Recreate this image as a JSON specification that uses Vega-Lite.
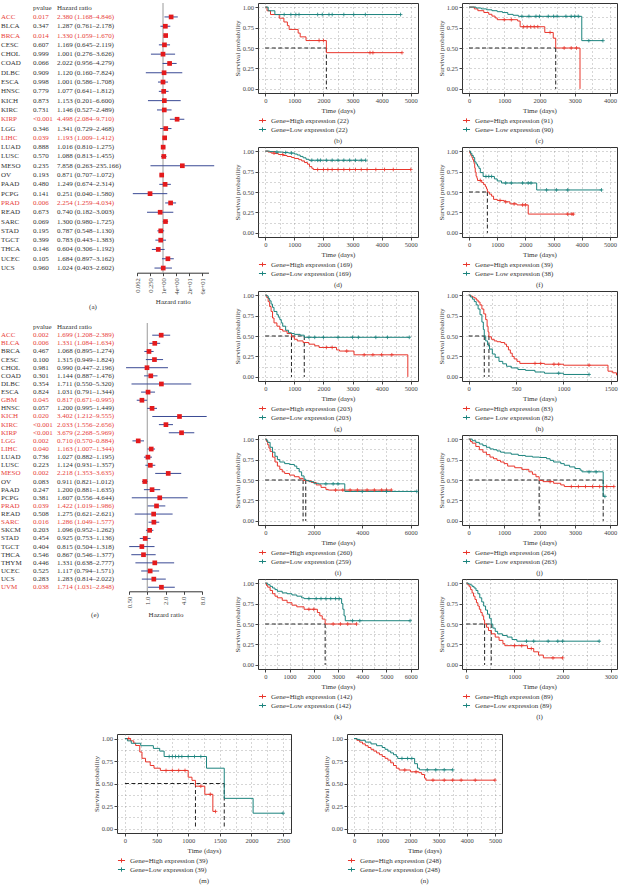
{
"$schema": "https://vega.github.io/schema/vega-lite/v6.json",
"padding": {"left": 1, "top": 2, "right": 0, "bottom": 0},
"background": "white",
"config": {
 "font": "Liberation Serif",
 "view": {"stroke": "#333", "strokeWidth": 1},
 "axis": {"labelFontSize": 6.5, "titleFontSize": 7, "titleFontWeight": "normal", "labelColor": "#444", "titleColor": "#333", "tickColor": "#444", "tickSize": 3, "labelPadding": 1.5, "titlePadding": 2, "gridColor": "#777", "gridDash": [1, 3], "gridWidth": 0.6, "domain": false},
 "legend": {"orient": "bottom", "direction": "vertical", "labelFontSize": 7, "labelColor": "#333", "offset": 3, "rowPadding": 0, "symbolSize": 50, "symbolStrokeWidth": 1, "labelOffset": 4, "padding": 0},
 "title": {"fontSize": 7, "fontWeight": "normal", "color": "#333", "offset": 3},
 "text": {"fontSize": 7}
},
"resolve": {"scale": {"color": "independent"}, "legend": {"color": "independent"}},
"datasets": {
 "fa": [
  {"cancer":"ACC","p":"0.017","hr":2.380,"lo":1.168,"hi":4.846,"hrtext":"2.380 (1.168–4.846)"},
  {"cancer":"BLCA","p":"0.347","hr":1.287,"lo":0.761,"hi":2.178,"hrtext":"1.287 (0.761–2.178)"},
  {"cancer":"BRCA","p":"0.014","hr":1.330,"lo":1.059,"hi":1.670,"hrtext":"1.330 (1.059–1.670)"},
  {"cancer":"CESC","p":"0.607","hr":1.169,"lo":0.645,"hi":2.119,"hrtext":"1.169 (0.645–2.119)"},
  {"cancer":"CHOL","p":"0.999","hr":1.001,"lo":0.276,"hi":3.626,"hrtext":"1.001 (0.276–3.626)"},
  {"cancer":"COAD","p":"0.066","hr":2.022,"lo":0.956,"hi":4.279,"hrtext":"2.022 (0.956–4.279)"},
  {"cancer":"DLBC","p":"0.909","hr":1.120,"lo":0.160,"hi":7.824,"hrtext":"1.120 (0.160–7.824)"},
  {"cancer":"ESCA","p":"0.998","hr":1.001,"lo":0.586,"hi":1.708,"hrtext":"1.001 (0.586–1.708)"},
  {"cancer":"HNSC","p":"0.779","hr":1.077,"lo":0.641,"hi":1.812,"hrtext":"1.077 (0.641–1.812)"},
  {"cancer":"KICH","p":"0.873","hr":1.153,"lo":0.201,"hi":6.600,"hrtext":"1.153 (0.201–6.600)"},
  {"cancer":"KIRC","p":"0.731","hr":1.146,"lo":0.527,"hi":2.489,"hrtext":"1.146 (0.527–2.489)"},
  {"cancer":"KIRP","p":"<0.001","hr":4.498,"lo":2.084,"hi":9.710,"hrtext":"4.498 (2.084–9.710)"},
  {"cancer":"LGG","p":"0.346","hr":1.341,"lo":0.729,"hi":2.468,"hrtext":"1.341 (0.729–2.468)"},
  {"cancer":"LIHC","p":"0.039","hr":1.193,"lo":1.009,"hi":1.412,"hrtext":"1.193 (1.009–1.412)"},
  {"cancer":"LUAD","p":"0.888","hr":1.016,"lo":0.810,"hi":1.275,"hrtext":"1.016 (0.810–1.275)"},
  {"cancer":"LUSC","p":"0.570","hr":1.088,"lo":0.813,"hi":1.455,"hrtext":"1.088 (0.813–1.455)"},
  {"cancer":"MESO","p":"0.235","hr":7.858,"lo":0.263,"hi":235.166,"hrtext":"7.858 (0.263–235.166)"},
  {"cancer":"OV","p":"0.193","hr":0.871,"lo":0.707,"hi":1.072,"hrtext":"0.871 (0.707–1.072)"},
  {"cancer":"PAAD","p":"0.480","hr":1.249,"lo":0.674,"hi":2.314,"hrtext":"1.249 (0.674–2.314)"},
  {"cancer":"PCPG","p":"0.141","hr":0.251,"lo":0.040,"hi":1.580,"hrtext":"0.251 (0.040–1.580)"},
  {"cancer":"PRAD","p":"0.006","hr":2.254,"lo":1.259,"hi":4.034,"hrtext":"2.254 (1.259–4.034)"},
  {"cancer":"READ","p":"0.673","hr":0.740,"lo":0.182,"hi":3.003,"hrtext":"0.740 (0.182–3.003)"},
  {"cancer":"SARC","p":"0.069","hr":1.300,"lo":0.980,"hi":1.725,"hrtext":"1.300 (0.980–1.725)"},
  {"cancer":"STAD","p":"0.195","hr":0.787,"lo":0.548,"hi":1.130,"hrtext":"0.787 (0.548–1.130)"},
  {"cancer":"TGCT","p":"0.399","hr":0.783,"lo":0.443,"hi":1.383,"hrtext":"0.783 (0.443–1.383)"},
  {"cancer":"THCA","p":"0.146","hr":0.604,"lo":0.306,"hi":1.192,"hrtext":"0.604 (0.306–1.192)"},
  {"cancer":"UCEC","p":"0.105","hr":1.684,"lo":0.897,"hi":3.162,"hrtext":"1.684 (0.897–3.162)"},
  {"cancer":"UCS","p":"0.960","hr":1.024,"lo":0.403,"hi":2.602,"hrtext":"1.024 (0.403–2.602)"}
 ],
 "fe": [
  {"cancer":"ACC","p":"0.002","hr":1.699,"lo":1.208,"hi":2.389,"hrtext":"1.699 (1.208–2.389)"},
  {"cancer":"BLCA","p":"0.006","hr":1.331,"lo":1.084,"hi":1.634,"hrtext":"1.331 (1.084–1.634)"},
  {"cancer":"BRCA","p":"0.467","hr":1.068,"lo":0.895,"hi":1.274,"hrtext":"1.068 (0.895–1.274)"},
  {"cancer":"CESC","p":"0.100","hr":1.315,"lo":0.949,"hi":1.824,"hrtext":"1.315 (0.949–1.824)"},
  {"cancer":"CHOL","p":"0.981","hr":0.990,"lo":0.447,"hi":2.196,"hrtext":"0.990 (0.447–2.196)"},
  {"cancer":"COAD","p":"0.301","hr":1.144,"lo":0.887,"hi":1.476,"hrtext":"1.144 (0.887–1.476)"},
  {"cancer":"DLBC","p":"0.354","hr":1.711,"lo":0.550,"hi":5.320,"hrtext":"1.711 (0.550–5.320)"},
  {"cancer":"ESCA","p":"0.824","hr":1.031,"lo":0.791,"hi":1.344,"hrtext":"1.031 (0.791–1.344)"},
  {"cancer":"GBM","p":"0.045","hr":0.817,"lo":0.671,"hi":0.995,"hrtext":"0.817 (0.671–0.995)"},
  {"cancer":"HNSC","p":"0.057","hr":1.200,"lo":0.995,"hi":1.449,"hrtext":"1.200 (0.995–1.449)"},
  {"cancer":"KICH","p":"0.020","hr":3.402,"lo":1.212,"hi":9.555,"hrtext":"3.402 (1.212–9.555)"},
  {"cancer":"KIRC","p":"<0.001","hr":2.033,"lo":1.556,"hi":2.656,"hrtext":"2.033 (1.556–2.656)"},
  {"cancer":"KIRP","p":"<0.001","hr":3.679,"lo":2.268,"hi":5.969,"hrtext":"3.679 (2.268–5.969)"},
  {"cancer":"LGG","p":"0.002","hr":0.710,"lo":0.570,"hi":0.884,"hrtext":"0.710 (0.570–0.884)"},
  {"cancer":"LIHC","p":"0.040","hr":1.163,"lo":1.007,"hi":1.344,"hrtext":"1.163 (1.007–1.344)"},
  {"cancer":"LUAD","p":"0.736","hr":1.027,"lo":0.882,"hi":1.195,"hrtext":"1.027 (0.882–1.195)"},
  {"cancer":"LUSC","p":"0.223","hr":1.124,"lo":0.931,"hi":1.357,"hrtext":"1.124 (0.931–1.357)"},
  {"cancer":"MESO","p":"0.002","hr":2.218,"lo":1.353,"hi":3.635,"hrtext":"2.218 (1.353–3.635)"},
  {"cancer":"OV","p":"0.083","hr":0.911,"lo":0.821,"hi":1.012,"hrtext":"0.911 (0.821–1.012)"},
  {"cancer":"PAAD","p":"0.247","hr":1.200,"lo":0.881,"hi":1.635,"hrtext":"1.200 (0.881–1.635)"},
  {"cancer":"PCPG","p":"0.381","hr":1.607,"lo":0.556,"hi":4.644,"hrtext":"1.607 (0.556–4.644)"},
  {"cancer":"PRAD","p":"0.039","hr":1.422,"lo":1.019,"hi":1.986,"hrtext":"1.422 (1.019–1.986)"},
  {"cancer":"READ","p":"0.508","hr":1.275,"lo":0.621,"hi":2.621,"hrtext":"1.275 (0.621–2.621)"},
  {"cancer":"SARC","p":"0.016","hr":1.286,"lo":1.049,"hi":1.577,"hrtext":"1.286 (1.049–1.577)"},
  {"cancer":"SKCM","p":"0.203","hr":1.096,"lo":0.952,"hi":1.262,"hrtext":"1.096 (0.952–1.262)"},
  {"cancer":"STAD","p":"0.454","hr":0.925,"lo":0.753,"hi":1.136,"hrtext":"0.925 (0.753–1.136)"},
  {"cancer":"TGCT","p":"0.404","hr":0.815,"lo":0.504,"hi":1.318,"hrtext":"0.815 (0.504–1.318)"},
  {"cancer":"THCA","p":"0.546","hr":0.867,"lo":0.546,"hi":1.377,"hrtext":"0.867 (0.546–1.377)"},
  {"cancer":"THYM","p":"0.446","hr":1.331,"lo":0.638,"hi":2.777,"hrtext":"1.331 (0.638–2.777)"},
  {"cancer":"UCEC","p":"0.525","hr":1.117,"lo":0.794,"hi":1.571,"hrtext":"1.117 (0.794–1.571)"},
  {"cancer":"UCS","p":"0.283","hr":1.283,"lo":0.814,"hi":2.022,"hrtext":"1.283 (0.814–2.022)"},
  {"cancer":"UVM","p":"0.038","hr":1.714,"lo":1.031,"hi":2.848,"hrtext":"1.714 (1.031–2.848)"}
 ]
},
"spacing": 12,
"vconcat": [
 {"spacing": 17, "align": "none", "resolve": {"scale": {"color": "independent"}, "legend": {"color": "independent"}}, "hconcat": [
  {"spacing": 12, "vconcat": [
   {"spacing": 16, "bounds": "flush", "hconcat": [
    {"width": 120, "height": 269.7, "view": {"stroke": null}, "data": {"name": "fa"},
     "title": {"text": "(a)", "orient": "bottom", "anchor": "middle", "frame": "group", "dx": 32, "offset": 30},
     "encoding": {"y": {"field": "cancer", "type": "nominal", "scale": {"type": "point", "padding": 0.5, "domain": ["hdr","ACC","BLCA","BRCA","CESC","CHOL","COAD","DLBC","ESCA","HNSC","KICH","KIRC","KIRP","LGG","LIHC","LUAD","LUSC","MESO","OV","PAAD","PCPG","PRAD","READ","SARC","STAD","TGCT","THCA","UCEC","UCS"]}, "axis": null},
      "color": {"condition": {"test": "datum.p === '<0.001' || toNumber(datum.p) < 0.05", "value": "#E8403A"}, "value": "#333"}},
     "layer": [
      {"mark": {"type": "text", "align": "left", "fontSize": 7}, "encoding": {"x": {"datum": 0, "type": "quantitative", "scale": {"domain": [0, 120], "nice": false}, "axis": null}, "text": {"field": "cancer"}}},
      {"mark": {"type": "text", "align": "left", "fontSize": 7}, "encoding": {"x": {"datum": 32, "type": "quantitative"}, "text": {"field": "p"}}},
      {"mark": {"type": "text", "align": "left", "fontSize": 7}, "encoding": {"x": {"datum": 56, "type": "quantitative"}, "text": {"field": "hrtext"}}},
      {"data": {"values": [{}]}, "mark": {"type": "text", "align": "left", "fontSize": 7}, "encoding": {"x": {"datum": 32, "type": "quantitative"}, "y": {"datum": "hdr"}, "text": {"value": "pvalue"}, "color": {"value": "#333"}}},
      {"data": {"values": [{}]}, "mark": {"type": "text", "align": "left", "fontSize": 7}, "encoding": {"x": {"datum": 56, "type": "quantitative"}, "y": {"datum": "hdr"}, "text": {"value": "Hazard ratio"}, "color": {"value": "#333"}}}
     ]},
    {"width": 71.5, "height": 269.7, "view": {"stroke": null}, "data": {"name": "fa"},
     "layer": [
      {"data": {"values": [{}]}, "mark": {"type": "rule", "color": "#9a9a9a", "strokeWidth": 1}, "encoding": {"x": {"datum": 1, "type": "quantitative", "scale": {"type": "log", "domain": [0.0625, 128], "nice": false}}}},
      {"mark": {"type": "rule", "color": "#3A4A94", "strokeWidth": 1}, "encoding": {"x": {"field": "lo", "type": "quantitative", "scale": {"type": "log", "domain": [0.0625, 128], "nice": false}}, "x2": {"field": "hi"}, "y": {"field": "cancer", "type": "nominal", "scale": {"type": "point", "padding": 0.5, "domain": ["hdr","ACC","BLCA","BRCA","CESC","CHOL","COAD","DLBC","ESCA","HNSC","KICH","KIRC","KIRP","LGG","LIHC","LUAD","LUSC","MESO","OV","PAAD","PCPG","PRAD","READ","SARC","STAD","TGCT","THCA","UCEC","UCS"]}, "axis": null}}},
      {"mark": {"type": "point", "shape": "square", "filled": true, "size": 22, "color": "#E41A1C", "opacity": 1}, "encoding": {"x": {"field": "hr", "type": "quantitative", "scale": {"type": "log", "domain": [0.0625, 128], "nice": false}, "axis": {"title": "Hazard ratio", "values": [0.0625, 0.25, 1, 4, 16, 64], "labelAngle": 270, "labelExpr": "datum.value < 0.1 ? '0.062' : datum.value < 0.5 ? '0.250' : datum.value < 2 ? '1e+00' : datum.value < 8 ? '4e+00' : datum.value < 32 ? '2e+01' : '6e+01'", "domain": true, "domainColor": "#333", "ticks": true, "grid": false, "labelPadding": 2, "titlePadding": 3}}, "y": {"field": "cancer", "type": "nominal"}}}
     ]}
   ]},
   {"spacing": 8, "bounds": "flush", "hconcat": [
    {"width": 120, "height": 268.3, "view": {"stroke": null}, "data": {"name": "fe"},
     "title": {"text": "(e)", "orient": "bottom", "anchor": "middle", "frame": "group", "dx": 34, "offset": 20},
     "encoding": {"y": {"field": "cancer", "type": "nominal", "scale": {"type": "point", "padding": 0.5, "domain": ["hdr","ACC","BLCA","BRCA","CESC","CHOL","COAD","DLBC","ESCA","GBM","HNSC","KICH","KIRC","KIRP","LGG","LIHC","LUAD","LUSC","MESO","OV","PAAD","PCPG","PRAD","READ","SARC","SKCM","STAD","TGCT","THCA","THYM","UCEC","UCS","UVM"]}, "axis": null},
      "color": {"condition": {"test": "datum.p === '<0.001' || toNumber(datum.p) < 0.05", "value": "#E8403A"}, "value": "#333"}},
     "layer": [
      {"mark": {"type": "text", "align": "left", "fontSize": 7}, "encoding": {"x": {"datum": 0, "type": "quantitative", "scale": {"domain": [0, 120], "nice": false}, "axis": null}, "text": {"field": "cancer"}}},
      {"mark": {"type": "text", "align": "left", "fontSize": 7}, "encoding": {"x": {"datum": 32, "type": "quantitative"}, "text": {"field": "p"}}},
      {"mark": {"type": "text", "align": "left", "fontSize": 7}, "encoding": {"x": {"datum": 56, "type": "quantitative"}, "text": {"field": "hrtext"}}},
      {"data": {"values": [{}]}, "mark": {"type": "text", "align": "left", "fontSize": 7}, "encoding": {"x": {"datum": 32, "type": "quantitative"}, "y": {"datum": "hdr"}, "text": {"value": "pvalue"}, "color": {"value": "#333"}}},
      {"data": {"values": [{}]}, "mark": {"type": "text", "align": "left", "fontSize": 7}, "encoding": {"x": {"datum": 56, "type": "quantitative"}, "y": {"datum": "hdr"}, "text": {"value": "Hazard ratio"}, "color": {"value": "#333"}}}
     ]},
    {"width": 73, "height": 268.3, "view": {"stroke": null}, "data": {"name": "fe"},
     "layer": [
      {"data": {"values": [{}]}, "mark": {"type": "rule", "color": "#9a9a9a", "strokeWidth": 1}, "encoding": {"x": {"datum": 1, "type": "quantitative", "scale": {"type": "log", "domain": [0.5, 8], "nice": false}}}},
      {"mark": {"type": "rule", "color": "#3A4A94", "strokeWidth": 1}, "encoding": {"x": {"field": "lo", "type": "quantitative", "scale": {"type": "log", "domain": [0.5, 8], "nice": false}}, "x2": {"field": "hi"}, "y": {"field": "cancer", "type": "nominal", "scale": {"type": "point", "padding": 0.5, "domain": ["hdr","ACC","BLCA","BRCA","CESC","CHOL","COAD","DLBC","ESCA","GBM","HNSC","KICH","KIRC","KIRP","LGG","LIHC","LUAD","LUSC","MESO","OV","PAAD","PCPG","PRAD","READ","SARC","SKCM","STAD","TGCT","THCA","THYM","UCEC","UCS","UVM"]}, "axis": null}}},
      {"mark": {"type": "point", "shape": "square", "filled": true, "size": 22, "color": "#E41A1C", "opacity": 1}, "encoding": {"x": {"field": "hr", "type": "quantitative", "scale": {"type": "log", "domain": [0.5, 8], "nice": false}, "axis": {"title": "Hazard ratio", "values": [0.5, 1, 2, 4, 8], "labelAngle": 270, "labelExpr": "datum.value < 1 ? '0.50' : format(datum.value, '.1f')", "domain": true, "domainColor": "#333", "ticks": true, "grid": false, "labelPadding": 2, "titlePadding": 3}}, "y": {"field": "cancer", "type": "nominal"}}}
     ]}
   ]}
  ]},
  {"columns": 2, "spacing": {"row": 1, "column": 15}, "resolve": {"scale": {"color": "independent"}, "legend": {"color": "independent"}}, "concat": [
   {"width": 160, "height": 90, "title": {"text": "(b)", "orient": "bottom", "anchor": "middle", "frame": "group"},
    "data": {"values": [
     {"g":"H","t":0,"s":1},{"g":"H","t":60,"s":0.955},{"g":"H","t":180,"s":0.909},{"g":"H","t":480,"s":0.864},{"g":"H","t":640,"s":0.818},{"g":"H","t":760,"s":0.773},{"g":"H","t":820,"s":0.727},{"g":"H","t":1130,"s":0.682},{"g":"H","t":1200,"s":0.636},{"g":"H","t":1400,"s":0.591},{"g":"H","t":1850,"s":0.591,"c":1},{"g":"H","t":2000,"s":0.591,"c":1},{"g":"H","t":2100,"s":0.443},{"g":"H","t":3600,"s":0.443,"c":1},{"g":"H","t":3700,"s":0.443,"c":1},{"g":"H","t":4700,"s":0.443,"c":1},
     {"g":"L","t":0,"s":1},{"g":"L","t":100,"s":0.955},{"g":"L","t":330,"s":0.909},{"g":"L","t":650,"s":0.909,"c":1},{"g":"L","t":880,"s":0.909,"c":1},{"g":"L","t":1050,"s":0.909,"c":1},{"g":"L","t":1160,"s":0.909,"c":1},{"g":"L","t":1800,"s":0.909,"c":1},{"g":"L","t":1960,"s":0.909,"c":1},{"g":"L","t":2190,"s":0.909,"c":1},{"g":"L","t":2300,"s":0.909,"c":1},{"g":"L","t":2700,"s":0.909,"c":1},{"g":"L","t":3040,"s":0.909,"c":1},{"g":"L","t":3440,"s":0.909,"c":1},{"g":"L","t":4650,"s":0.909,"c":1}
    ]},
    "encoding": {
     "x": {"field": "t", "type": "quantitative", "scale": {"domain": [-250, 5250], "nice": false, "zero": false}, "axis": {"title": "Time (days)", "values": [0,500,1000,1500,2000,2500,3000,3500,4000,4500,5000], "format": "d", "labelExpr": "datum.value % 1000 === 0 ? datum.label : ''", "tickOpacity": {"condition": {"test": "datum.value % 1000 !== 0", "value": 0}, "value": 1}}},
     "y": {"field": "s", "type": "quantitative", "scale": {"domain": [-0.05, 1.05], "nice": false, "zero": false}, "axis": {"title": "Survival probability", "values": [0,0.125,0.25,0.375,0.5,0.625,0.75,0.875,1], "labelExpr": "datum.value*4 % 1 === 0 ? format(datum.value, '.2f') : ''", "tickOpacity": {"condition": {"test": "datum.value*4 % 1 !== 0", "value": 0}, "value": 1}}}
    },
    "layer": [
     {"data": {"values": [{"t":0,"t2":2100,"s":0.5,"s2":0.5},{"t":2100,"t2":2100,"s":0.5,"s2":0}]}, "mark": {"type": "rule", "strokeDash": [4, 2.5], "color": "#222", "strokeWidth": 1}, "encoding": {"x2": {"field": "t2"}, "y2": {"field": "s2"}}},
     {"mark": {"type": "line", "interpolate": "step-after", "strokeWidth": 1}, "encoding": {"color": {"field": "g", "type": "nominal", "scale": {"domain": ["H", "L"], "range": ["#E8352B", "#1B837D"]}, "legend": {"title": null, "symbolType": "M-1,0H1M0,-0.6V0.6", "labelExpr": "datum.value === 'H' ? 'Gene=High expression (22)' : 'Gene=Low expression (22)'"}}}},
     {"transform": [{"filter": "datum.c === 1"}], "mark": {"type": "point", "shape": "M-1,0H1M0,-1V1", "filled": false, "size": 14, "strokeWidth": 0.8, "opacity": 1}, "encoding": {"color": {"field": "g", "type": "nominal", "legend": null}}},
     {"data": {"values": [{}]}, "mark": {"type": "text", "align": "left", "fontSize": 7, "color": "#333"}, "encoding": {"x": {"datum": 20}, "y": {"datum": 0.2}, "text": {"value": "p = 0.025"}}},
     {"data": {"values": [{}]}, "mark": {"type": "text", "fontSize": 7, "color": "#333"}, "encoding": {"x": {"datum": 3100}, "y": {"datum": 0.555}, "text": {"value": "ACC"}}}
    ]},
   {"width": 155, "height": 90, "title": {"text": "(c)", "orient": "bottom", "anchor": "middle", "frame": "group"},
    "data": {"values": [
     {"g":"H","t":0,"s":1},{"g":"H","t":150,"s":0.978},{"g":"H","t":250,"s":0.956},{"g":"H","t":420,"s":0.934},{"g":"H","t":560,"s":0.912},{"g":"H","t":650,"s":0.89},{"g":"H","t":740,"s":0.868},{"g":"H","t":800,"s":0.846},{"g":"H","t":1000,"s":0.846,"c":1},{"g":"H","t":1200,"s":0.846,"c":1},{"g":"H","t":1380,"s":0.83},{"g":"H","t":1450,"s":0.76},{"g":"H","t":1550,"s":0.76,"c":1},{"g":"H","t":1650,"s":0.76,"c":1},{"g":"H","t":1750,"s":0.76,"c":1},{"g":"H","t":1850,"s":0.76,"c":1},{"g":"H","t":1950,"s":0.76,"c":1},{"g":"H","t":2150,"s":0.69},{"g":"H","t":2300,"s":0.69,"c":1},{"g":"H","t":2390,"s":0.62},{"g":"H","t":2460,"s":0.5},{"g":"H","t":2700,"s":0.5,"c":1},{"g":"H","t":2900,"s":0.5,"c":1},{"g":"H","t":3050,"s":0.5,"c":1},{"g":"H","t":3150,"s":0},
     {"g":"L","t":0,"s":1},{"g":"L","t":200,"s":0.989},{"g":"L","t":350,"s":0.978},{"g":"L","t":500,"s":0.967},{"g":"L","t":650,"s":0.956},{"g":"L","t":800,"s":0.944},{"g":"L","t":950,"s":0.933},{"g":"L","t":1100,"s":0.911},{"g":"L","t":1250,"s":0.9},{"g":"L","t":1400,"s":0.887},{"g":"L","t":1500,"s":0.887,"c":1},{"g":"L","t":1700,"s":0.887,"c":1},{"g":"L","t":1900,"s":0.887,"c":1},{"g":"L","t":2000,"s":0.887,"c":1},{"g":"L","t":2250,"s":0.887,"c":1},{"g":"L","t":2400,"s":0.887,"c":1},{"g":"L","t":2500,"s":0.887,"c":1},{"g":"L","t":2750,"s":0.887,"c":1},{"g":"L","t":2900,"s":0.887,"c":1},{"g":"L","t":3000,"s":0.887,"c":1},{"g":"L","t":3100,"s":0.887,"c":1},{"g":"L","t":3200,"s":0.59},{"g":"L","t":3400,"s":0.59,"c":1},{"g":"L","t":3800,"s":0.59,"c":1}
    ]},
    "encoding": {
     "x": {"field": "t", "type": "quantitative", "scale": {"domain": [-200, 4200], "nice": false, "zero": false}, "axis": {"title": "Time (days)", "values": [0,500,1000,1500,2000,2500,3000,3500,4000], "format": "d", "labelExpr": "datum.value % 1000 === 0 ? datum.label : ''", "tickOpacity": {"condition": {"test": "datum.value % 1000 !== 0", "value": 0}, "value": 1}}},
     "y": {"field": "s", "type": "quantitative", "scale": {"domain": [-0.05, 1.05], "nice": false, "zero": false}, "axis": {"title": "Survival probability", "values": [0,0.125,0.25,0.375,0.5,0.625,0.75,0.875,1], "labelExpr": "datum.value*4 % 1 === 0 ? format(datum.value, '.2f') : ''", "tickOpacity": {"condition": {"test": "datum.value*4 % 1 !== 0", "value": 0}, "value": 1}}}
    },
    "layer": [
     {"data": {"values": [{"t":0,"t2":2460,"s":0.5,"s2":0.5},{"t":2460,"t2":2460,"s":0.5,"s2":0}]}, "mark": {"type": "rule", "strokeDash": [4, 2.5], "color": "#222", "strokeWidth": 1}, "encoding": {"x2": {"field": "t2"}, "y2": {"field": "s2"}}},
     {"mark": {"type": "line", "interpolate": "step-after", "strokeWidth": 1}, "encoding": {"color": {"field": "g", "type": "nominal", "scale": {"domain": ["H", "L"], "range": ["#E8352B", "#1B837D"]}, "legend": {"title": null, "symbolType": "M-1,0H1M0,-0.6V0.6", "labelExpr": "datum.value === 'H' ? 'Gene=High expression (91)' : 'Gene= Low expression (90)'"}}}},
     {"transform": [{"filter": "datum.c === 1"}], "mark": {"type": "point", "shape": "M-1,0H1M0,-1V1", "filled": false, "size": 14, "strokeWidth": 0.8, "opacity": 1}, "encoding": {"color": {"field": "g", "type": "nominal", "legend": null}}},
     {"data": {"values": [{}]}, "mark": {"type": "text", "align": "left", "fontSize": 7, "color": "#333"}, "encoding": {"x": {"datum": 0}, "y": {"datum": 0.2}, "text": {"value": "p = 0.015"}}},
     {"data": {"values": [{}]}, "mark": {"type": "text", "fontSize": 7, "color": "#333"}, "encoding": {"x": {"datum": 2550}, "y": {"datum": 0.757}, "text": {"value": "KIRP"}}}
    ]},
   {"width": 160, "height": 90, "title": {"text": "(d)", "orient": "bottom", "anchor": "middle", "frame": "group"},
    "data": {"values": [
     {"g":"H","t":0,"s":1},{"g":"H","t":100,"s":0.988},{"g":"H","t":200,"s":0.976},{"g":"H","t":300,"s":0.976,"c":1},{"g":"H","t":320,"s":0.97},{"g":"H","t":450,"s":0.958},{"g":"H","t":600,"s":0.958,"c":1},{"g":"H","t":620,"s":0.946},{"g":"H","t":750,"s":0.934},{"g":"H","t":900,"s":0.922},{"g":"H","t":1000,"s":0.91},{"g":"H","t":1150,"s":0.895},{"g":"H","t":1250,"s":0.88},{"g":"H","t":1350,"s":0.86},{"g":"H","t":1450,"s":0.84},{"g":"H","t":1520,"s":0.81},{"g":"H","t":1600,"s":0.79},{"g":"H","t":1650,"s":0.775},{"g":"H","t":1800,"s":0.775,"c":1},{"g":"H","t":2000,"s":0.775,"c":1},{"g":"H","t":2150,"s":0.775,"c":1},{"g":"H","t":2300,"s":0.775,"c":1},{"g":"H","t":2500,"s":0.775,"c":1},{"g":"H","t":2700,"s":0.775,"c":1},{"g":"H","t":2900,"s":0.775,"c":1},{"g":"H","t":3100,"s":0.775,"c":1},{"g":"H","t":3300,"s":0.775,"c":1},{"g":"H","t":3500,"s":0.775,"c":1},{"g":"H","t":3800,"s":0.775,"c":1},{"g":"H","t":4100,"s":0.775,"c":1},{"g":"H","t":4400,"s":0.775,"c":1},{"g":"H","t":5000,"s":0.775,"c":1},
     {"g":"L","t":0,"s":1},{"g":"L","t":150,"s":0.994},{"g":"L","t":350,"s":0.988},{"g":"L","t":400,"s":0.988,"c":1},{"g":"L","t":600,"s":0.982},{"g":"L","t":700,"s":0.982,"c":1},{"g":"L","t":800,"s":0.976},{"g":"L","t":900,"s":0.976,"c":1},{"g":"L","t":1000,"s":0.964},{"g":"L","t":1100,"s":0.952},{"g":"L","t":1200,"s":0.935},{"g":"L","t":1300,"s":0.918},{"g":"L","t":1400,"s":0.9},{"g":"L","t":1500,"s":0.888},{"g":"L","t":1600,"s":0.888,"c":1},{"g":"L","t":1800,"s":0.888,"c":1},{"g":"L","t":1900,"s":0.888,"c":1},{"g":"L","t":2100,"s":0.888,"c":1},{"g":"L","t":2300,"s":0.888,"c":1},{"g":"L","t":2500,"s":0.888,"c":1},{"g":"L","t":2700,"s":0.888,"c":1},{"g":"L","t":2900,"s":0.888,"c":1},{"g":"L","t":3100,"s":0.888,"c":1},{"g":"L","t":3300,"s":0.888,"c":1},{"g":"L","t":3450,"s":0.888,"c":1}
    ]},
    "encoding": {
     "x": {"field": "t", "type": "quantitative", "scale": {"domain": [-250, 5250], "nice": false, "zero": false}, "axis": {"title": "Time (days)", "values": [0,500,1000,1500,2000,2500,3000,3500,4000,4500,5000], "format": "d", "labelExpr": "datum.value % 1000 === 0 ? datum.label : ''", "tickOpacity": {"condition": {"test": "datum.value % 1000 !== 0", "value": 0}, "value": 1}}},
     "y": {"field": "s", "type": "quantitative", "scale": {"domain": [-0.05, 1.05], "nice": false, "zero": false}, "axis": {"title": "Survival probability", "values": [0,0.125,0.25,0.375,0.5,0.625,0.75,0.875,1], "labelExpr": "datum.value*4 % 1 === 0 ? format(datum.value, '.2f') : ''", "tickOpacity": {"condition": {"test": "datum.value*4 % 1 !== 0", "value": 0}, "value": 1}}}
    },
    "layer": [
     {"mark": {"type": "line", "interpolate": "step-after", "strokeWidth": 1}, "encoding": {"color": {"field": "g", "type": "nominal", "scale": {"domain": ["H", "L"], "range": ["#E8352B", "#1B837D"]}, "legend": {"title": null, "symbolType": "M-1,0H1M0,-0.6V0.6", "labelExpr": "datum.value === 'H' ? 'Gene=High expression (169)' : 'Gene=Low expression (169)'"}}}},
     {"transform": [{"filter": "datum.c === 1"}], "mark": {"type": "point", "shape": "M-1,0H1M0,-1V1", "filled": false, "size": 14, "strokeWidth": 0.8, "opacity": 1}, "encoding": {"color": {"field": "g", "type": "nominal", "legend": null}}},
     {"data": {"values": [{}]}, "mark": {"type": "text", "align": "left", "fontSize": 7, "color": "#333"}, "encoding": {"x": {"datum": 20}, "y": {"datum": 0.185}, "text": {"value": "p = 0.04"}}},
     {"data": {"values": [{}]}, "mark": {"type": "text", "fontSize": 7, "color": "#333"}, "encoding": {"x": {"datum": 2915}, "y": {"datum": 0.569}, "text": {"value": "PRAD"}}}
    ]},
   {"width": 155, "height": 90, "title": {"text": "(f)", "orient": "bottom", "anchor": "middle", "frame": "group"},
    "data": {"values": [
     {"g":"H","t":0,"s":1},{"g":"H","t":30,"s":0.974},{"g":"H","t":60,"s":0.949},{"g":"H","t":100,"s":0.923},{"g":"H","t":130,"s":0.897},{"g":"H","t":160,"s":0.872},{"g":"H","t":180,"s":0.846},{"g":"H","t":200,"s":0.795},{"g":"H","t":220,"s":0.744},{"g":"H","t":250,"s":0.692},{"g":"H","t":280,"s":0.667},{"g":"H","t":300,"s":0.641},{"g":"H","t":400,"s":0.641,"c":1},{"g":"H","t":450,"s":0.615},{"g":"H","t":520,"s":0.59},{"g":"H","t":580,"s":0.564},{"g":"H","t":620,"s":0.538},{"g":"H","t":650,"s":0.5},{"g":"H","t":720,"s":0.474},{"g":"H","t":800,"s":0.449},{"g":"H","t":870,"s":0.41},{"g":"H","t":1000,"s":0.397},{"g":"H","t":1100,"s":0.397,"c":1},{"g":"H","t":1250,"s":0.38},{"g":"H","t":1300,"s":0.38,"c":1},{"g":"H","t":1450,"s":0.355},{"g":"H","t":1600,"s":0.355,"c":1},{"g":"H","t":1700,"s":0.342},{"g":"H","t":1900,"s":0.342,"c":1},{"g":"H","t":2000,"s":0.342,"c":1},{"g":"H","t":2100,"s":0.23},{"g":"H","t":3500,"s":0.23,"c":1},{"g":"H","t":3650,"s":0.23,"c":1},{"g":"H","t":3700,"s":0.23,"c":1},
     {"g":"L","t":0,"s":1},{"g":"L","t":50,"s":0.974},{"g":"L","t":100,"s":0.947},{"g":"L","t":150,"s":0.921},{"g":"L","t":200,"s":0.868},{"g":"L","t":250,"s":0.842},{"g":"L","t":300,"s":0.816},{"g":"L","t":350,"s":0.789},{"g":"L","t":400,"s":0.737},{"g":"L","t":500,"s":0.69},{"g":"L","t":600,"s":0.69,"c":1},{"g":"L","t":700,"s":0.69,"c":1},{"g":"L","t":800,"s":0.69,"c":1},{"g":"L","t":900,"s":0.66},{"g":"L","t":1000,"s":0.635},{"g":"L","t":1150,"s":0.61},{"g":"L","t":1300,"s":0.61,"c":1},{"g":"L","t":1500,"s":0.61,"c":1},{"g":"L","t":1900,"s":0.61,"c":1},{"g":"L","t":2100,"s":0.61,"c":1},{"g":"L","t":2200,"s":0.61,"c":1},{"g":"L","t":2400,"s":0.525},{"g":"L","t":2750,"s":0.525,"c":1},{"g":"L","t":3100,"s":0.525,"c":1},{"g":"L","t":3500,"s":0.525,"c":1},{"g":"L","t":4700,"s":0.525,"c":1}
    ]},
    "encoding": {
     "x": {"field": "t", "type": "quantitative", "scale": {"domain": [-250, 5250], "nice": false, "zero": false}, "axis": {"title": "Time (days)", "values": [0,500,1000,1500,2000,2500,3000,3500,4000,4500,5000], "format": "d", "labelExpr": "datum.value % 1000 === 0 ? datum.label : ''", "tickOpacity": {"condition": {"test": "datum.value % 1000 !== 0", "value": 0}, "value": 1}}},
     "y": {"field": "s", "type": "quantitative", "scale": {"domain": [-0.05, 1.05], "nice": false, "zero": false}, "axis": {"title": "Survival probability", "values": [0,0.125,0.25,0.375,0.5,0.625,0.75,0.875,1], "labelExpr": "datum.value*4 % 1 === 0 ? format(datum.value, '.2f') : ''", "tickOpacity": {"condition": {"test": "datum.value*4 % 1 !== 0", "value": 0}, "value": 1}}}
    },
    "layer": [
     {"data": {"values": [{"t":0,"t2":650,"s":0.5,"s2":0.5},{"t":650,"t2":650,"s":0.5,"s2":0}]}, "mark": {"type": "rule", "strokeDash": [4, 2.5], "color": "#222", "strokeWidth": 1}, "encoding": {"x2": {"field": "t2"}, "y2": {"field": "s2"}}},
     {"mark": {"type": "line", "interpolate": "step-after", "strokeWidth": 1}, "encoding": {"color": {"field": "g", "type": "nominal", "scale": {"domain": ["H", "L"], "range": ["#E8352B", "#1B837D"]}, "legend": {"title": null, "symbolType": "M-1,0H1M0,-0.6V0.6", "labelExpr": "datum.value === 'H' ? 'Gene=High expression (39)' : 'Gene= Low expression (38)'"}}}},
     {"transform": [{"filter": "datum.c === 1"}], "mark": {"type": "point", "shape": "M-1,0H1M0,-1V1", "filled": false, "size": 14, "strokeWidth": 0.8, "opacity": 1}, "encoding": {"color": {"field": "g", "type": "nominal", "legend": null}}},
     {"data": {"values": [{}]}, "mark": {"type": "text", "align": "left", "fontSize": 7, "color": "#333"}, "encoding": {"x": {"datum": 50}, "y": {"datum": 0.2}, "text": {"value": "p = 0.02"}}},
     {"data": {"values": [{}]}, "mark": {"type": "text", "fontSize": 7, "color": "#333"}, "encoding": {"x": {"datum": 2710}, "y": {"datum": 0.752}, "text": {"value": "ACC"}}}
    ]},
   {"width": 160, "height": 90, "title": {"text": "(g)", "orient": "bottom", "anchor": "middle", "frame": "group"},
    "data": {"values": [
     {"g":"H","t":0,"s":1},{"g":"H","t":50,"s":0.97},{"g":"H","t":100,"s":0.92},{"g":"H","t":150,"s":0.86},{"g":"H","t":200,"s":0.8},{"g":"H","t":250,"s":0.72},{"g":"H","t":300,"s":0.66},{"g":"H","t":400,"s":0.62},{"g":"H","t":500,"s":0.58},{"g":"H","t":600,"s":0.56},{"g":"H","t":750,"s":0.53},{"g":"H","t":900,"s":0.49},{"g":"H","t":1000,"s":0.46},{"g":"H","t":1100,"s":0.44},{"g":"H","t":1300,"s":0.42},{"g":"H","t":1500,"s":0.4},{"g":"H","t":1700,"s":0.38},{"g":"H","t":1850,"s":0.36},{"g":"H","t":2100,"s":0.36,"c":1},{"g":"H","t":2300,"s":0.36,"c":1},{"g":"H","t":2450,"s":0.33},{"g":"H","t":2550,"s":0.316},{"g":"H","t":2800,"s":0.316,"c":1},{"g":"H","t":3050,"s":0.27},{"g":"H","t":3400,"s":0.27,"c":1},{"g":"H","t":3700,"s":0.27,"c":1},{"g":"H","t":4000,"s":0.27,"c":1},{"g":"H","t":4350,"s":0.27,"c":1},{"g":"H","t":4900,"s":0},
     {"g":"L","t":0,"s":1},{"g":"L","t":50,"s":0.99},{"g":"L","t":100,"s":0.96},{"g":"L","t":150,"s":0.93},{"g":"L","t":200,"s":0.89},{"g":"L","t":250,"s":0.85},{"g":"L","t":300,"s":0.8},{"g":"L","t":400,"s":0.76},{"g":"L","t":450,"s":0.73},{"g":"L","t":500,"s":0.7},{"g":"L","t":550,"s":0.66},{"g":"L","t":600,"s":0.62},{"g":"L","t":700,"s":0.57},{"g":"L","t":800,"s":0.54},{"g":"L","t":900,"s":0.53},{"g":"L","t":1000,"s":0.52},{"g":"L","t":1200,"s":0.51},{"g":"L","t":1340,"s":0.484},{"g":"L","t":1500,"s":0.484,"c":1},{"g":"L","t":1700,"s":0.484,"c":1},{"g":"L","t":2000,"s":0.484,"c":1},{"g":"L","t":2500,"s":0.484,"c":1},{"g":"L","t":3000,"s":0.484,"c":1},{"g":"L","t":3200,"s":0.484,"c":1},{"g":"L","t":3800,"s":0.484,"c":1},{"g":"L","t":4200,"s":0.484,"c":1},{"g":"L","t":4950,"s":0.484,"c":1}
    ]},
    "encoding": {
     "x": {"field": "t", "type": "quantitative", "scale": {"domain": [-250, 5250], "nice": false, "zero": false}, "axis": {"title": "Time (days)", "values": [0,500,1000,1500,2000,2500,3000,3500,4000,4500,5000], "format": "d", "labelExpr": "datum.value % 1000 === 0 ? datum.label : ''", "tickOpacity": {"condition": {"test": "datum.value % 1000 !== 0", "value": 0}, "value": 1}}},
     "y": {"field": "s", "type": "quantitative", "scale": {"domain": [-0.05, 1.05], "nice": false, "zero": false}, "axis": {"title": "Survival probability", "values": [0,0.125,0.25,0.375,0.5,0.625,0.75,0.875,1], "labelExpr": "datum.value*4 % 1 === 0 ? format(datum.value, '.2f') : ''", "tickOpacity": {"condition": {"test": "datum.value*4 % 1 !== 0", "value": 0}, "value": 1}}}
    },
    "layer": [
     {"data": {"values": [{"t":0,"t2":1340,"s":0.5,"s2":0.5},{"t":900,"t2":900,"s":0.5,"s2":0},{"t":1340,"t2":1340,"s":0.5,"s2":0}]}, "mark": {"type": "rule", "strokeDash": [4, 2.5], "color": "#222", "strokeWidth": 1}, "encoding": {"x2": {"field": "t2"}, "y2": {"field": "s2"}}},
     {"mark": {"type": "line", "interpolate": "step-after", "strokeWidth": 1}, "encoding": {"color": {"field": "g", "type": "nominal", "scale": {"domain": ["H", "L"], "range": ["#E8352B", "#1B837D"]}, "legend": {"title": null, "symbolType": "M-1,0H1M0,-0.6V0.6", "labelExpr": "datum.value === 'H' ? 'Gene=High expression (203)' : 'Gene=Low expression (203)'"}}}},
     {"transform": [{"filter": "datum.c === 1"}], "mark": {"type": "point", "shape": "M-1,0H1M0,-1V1", "filled": false, "size": 14, "strokeWidth": 0.8, "opacity": 1}, "encoding": {"color": {"field": "g", "type": "nominal", "legend": null}}},
     {"data": {"values": [{}]}, "mark": {"type": "text", "align": "left", "fontSize": 7, "color": "#333"}, "encoding": {"x": {"datum": 50}, "y": {"datum": 0.2}, "text": {"value": "p = 0.03"}}},
     {"data": {"values": [{}]}, "mark": {"type": "text", "fontSize": 7, "color": "#333"}, "encoding": {"x": {"datum": 2620}, "y": {"datum": 0.59}, "text": {"value": "BLCA"}}}
    ]},
   {"width": 155, "height": 90, "title": {"text": "(h)", "orient": "bottom", "anchor": "middle", "frame": "group"},
    "data": {"values": [
     {"g":"H","t":0,"s":1},{"g":"H","t":20,"s":0.988},{"g":"H","t":40,"s":0.976},{"g":"H","t":60,"s":0.964},{"g":"H","t":80,"s":0.94},{"g":"H","t":100,"s":0.916},{"g":"H","t":120,"s":0.88},{"g":"H","t":140,"s":0.83},{"g":"H","t":160,"s":0.77},{"g":"H","t":180,"s":0.7},{"g":"H","t":195,"s":0.62},{"g":"H","t":205,"s":0.55},{"g":"H","t":214,"s":0.49},{"g":"H","t":240,"s":0.46},{"g":"H","t":270,"s":0.44},{"g":"H","t":300,"s":0.43},{"g":"H","t":340,"s":0.42},{"g":"H","t":380,"s":0.4},{"g":"H","t":400,"s":0.37},{"g":"H","t":420,"s":0.33},{"g":"H","t":440,"s":0.29},{"g":"H","t":460,"s":0.25},{"g":"H","t":480,"s":0.22},{"g":"H","t":510,"s":0.19},{"g":"H","t":540,"s":0.165},{"g":"H","t":700,"s":0.165,"c":1},{"g":"H","t":760,"s":0.165,"c":1},{"g":"H","t":800,"s":0.155},{"g":"H","t":900,"s":0.155,"c":1},{"g":"H","t":950,"s":0.155,"c":1},{"g":"H","t":1000,"s":0.143},{"g":"H","t":1270,"s":0.143,"c":1},{"g":"H","t":1470,"s":0.07},{"g":"H","t":1520,"s":0.05},{"g":"H","t":1560,"s":0.02},
     {"g":"L","t":0,"s":1},{"g":"L","t":20,"s":0.976},{"g":"L","t":40,"s":0.95},{"g":"L","t":60,"s":0.92},{"g":"L","t":80,"s":0.88},{"g":"L","t":100,"s":0.83},{"g":"L","t":120,"s":0.76},{"g":"L","t":140,"s":0.67},{"g":"L","t":155,"s":0.58},{"g":"L","t":165,"s":0.49},{"g":"L","t":180,"s":0.44},{"g":"L","t":200,"s":0.39},{"g":"L","t":220,"s":0.34},{"g":"L","t":250,"s":0.28},{"g":"L","t":280,"s":0.24},{"g":"L","t":320,"s":0.19},{"g":"L","t":360,"s":0.16},{"g":"L","t":400,"s":0.13},{"g":"L","t":450,"s":0.11},{"g":"L","t":520,"s":0.09},{"g":"L","t":600,"s":0.08},{"g":"L","t":700,"s":0.06},{"g":"L","t":800,"s":0.045},{"g":"L","t":950,"s":0.045,"c":1},{"g":"L","t":1000,"s":0.03},{"g":"L","t":1270,"s":0.03,"c":1}
    ]},
    "encoding": {
     "x": {"field": "t", "type": "quantitative", "scale": {"domain": [-70, 1565], "nice": false, "zero": false}, "axis": {"title": "Time (days)", "values": [0,250,500,750,1000,1250,1500], "format": "d", "labelExpr": "datum.value % 500 === 0 ? datum.label : ''", "tickOpacity": {"condition": {"test": "datum.value % 500 !== 0", "value": 0}, "value": 1}}},
     "y": {"field": "s", "type": "quantitative", "scale": {"domain": [-0.05, 1.05], "nice": false, "zero": false}, "axis": {"title": "Survival probability", "values": [0,0.125,0.25,0.375,0.5,0.625,0.75,0.875,1], "labelExpr": "datum.value*4 % 1 === 0 ? format(datum.value, '.2f') : ''", "tickOpacity": {"condition": {"test": "datum.value*4 % 1 !== 0", "value": 0}, "value": 1}}}
    },
    "layer": [
     {"data": {"values": [{"t":0,"t2":214,"s":0.5,"s2":0.5},{"t":165,"t2":165,"s":0.5,"s2":0},{"t":214,"t2":214,"s":0.5,"s2":0}]}, "mark": {"type": "rule", "strokeDash": [4, 2.5], "color": "#222", "strokeWidth": 1}, "encoding": {"x2": {"field": "t2"}, "y2": {"field": "s2"}}},
     {"mark": {"type": "line", "interpolate": "step-after", "strokeWidth": 1}, "encoding": {"color": {"field": "g", "type": "nominal", "scale": {"domain": ["H", "L"], "range": ["#E8352B", "#1B837D"]}, "legend": {"title": null, "symbolType": "M-1,0H1M0,-0.6V0.6", "labelExpr": "datum.value === 'H' ? 'Gene=High expression (83)' : 'Gene= Low expression (82)'"}}}},
     {"transform": [{"filter": "datum.c === 1"}], "mark": {"type": "point", "shape": "M-1,0H1M0,-1V1", "filled": false, "size": 14, "strokeWidth": 0.8, "opacity": 1}, "encoding": {"color": {"field": "g", "type": "nominal", "legend": null}}},
     {"data": {"values": [{}]}, "mark": {"type": "text", "align": "left", "fontSize": 7, "color": "#333"}, "encoding": {"x": {"datum": 10}, "y": {"datum": 0.2}, "text": {"value": "p = 0.0091"}}},
     {"data": {"values": [{}]}, "mark": {"type": "text", "fontSize": 7, "color": "#333"}, "encoding": {"x": {"datum": 834}, "y": {"datum": 0.64}, "text": {"value": "GBM"}}}
    ]},
   {"width": 160, "height": 90, "title": {"text": "(i)", "orient": "bottom", "anchor": "middle", "frame": "group"},
    "data": {"values": [
     {"g":"H","t":0,"s":1},{"g":"H","t":50,"s":0.97},{"g":"H","t":100,"s":0.93},{"g":"H","t":150,"s":0.89},{"g":"H","t":200,"s":0.85},{"g":"H","t":300,"s":0.78},{"g":"H","t":400,"s":0.72},{"g":"H","t":500,"s":0.67},{"g":"H","t":600,"s":0.63},{"g":"H","t":700,"s":0.6},{"g":"H","t":800,"s":0.58},{"g":"H","t":1000,"s":0.56},{"g":"H","t":1200,"s":0.54},{"g":"H","t":1400,"s":0.52},{"g":"H","t":1560,"s":0.495},{"g":"H","t":1700,"s":0.49},{"g":"H","t":1900,"s":0.47},{"g":"H","t":2100,"s":0.44},{"g":"H","t":2300,"s":0.41},{"g":"H","t":2500,"s":0.385},{"g":"H","t":2600,"s":0.377},{"g":"H","t":2900,"s":0.377,"c":1},{"g":"H","t":3200,"s":0.377,"c":1},{"g":"H","t":3500,"s":0.377,"c":1},{"g":"H","t":3800,"s":0.377,"c":1},{"g":"H","t":4200,"s":0.377,"c":1},{"g":"H","t":4500,"s":0.377,"c":1},{"g":"H","t":4800,"s":0.377,"c":1},{"g":"H","t":5000,"s":0.377,"c":1},{"g":"H","t":5200,"s":0.377,"c":1},
     {"g":"L","t":0,"s":1},{"g":"L","t":50,"s":0.985},{"g":"L","t":100,"s":0.96},{"g":"L","t":200,"s":0.9},{"g":"L","t":300,"s":0.84},{"g":"L","t":400,"s":0.79},{"g":"L","t":500,"s":0.75},{"g":"L","t":600,"s":0.72},{"g":"L","t":800,"s":0.7},{"g":"L","t":1000,"s":0.69},{"g":"L","t":1200,"s":0.67},{"g":"L","t":1300,"s":0.64},{"g":"L","t":1400,"s":0.6},{"g":"L","t":1500,"s":0.55},{"g":"L","t":1600,"s":0.51},{"g":"L","t":1670,"s":0.495},{"g":"L","t":1800,"s":0.48},{"g":"L","t":2000,"s":0.46},{"g":"L","t":2200,"s":0.453},{"g":"L","t":2500,"s":0.453,"c":1},{"g":"L","t":2800,"s":0.453,"c":1},{"g":"L","t":3000,"s":0.453,"c":1},{"g":"L","t":3280,"s":0.36},{"g":"L","t":4000,"s":0.36,"c":1},{"g":"L","t":5000,"s":0.36,"c":1},{"g":"L","t":6250,"s":0.36,"c":1}
    ]},
    "encoding": {
     "x": {"field": "t", "type": "quantitative", "scale": {"domain": [-300, 6300], "nice": false, "zero": false}, "axis": {"title": "Time (days)", "values": [0,1000,2000,3000,4000,5000,6000], "format": "d", "labelExpr": "datum.value % 2000 === 0 ? datum.label : ''", "tickOpacity": {"condition": {"test": "datum.value % 2000 !== 0", "value": 0}, "value": 1}}},
     "y": {"field": "s", "type": "quantitative", "scale": {"domain": [-0.05, 1.05], "nice": false, "zero": false}, "axis": {"title": "Survival probability", "values": [0,0.125,0.25,0.375,0.5,0.625,0.75,0.875,1], "labelExpr": "datum.value*4 % 1 === 0 ? format(datum.value, '.2f') : ''", "tickOpacity": {"condition": {"test": "datum.value*4 % 1 !== 0", "value": 0}, "value": 1}}}
    },
    "layer": [
     {"data": {"values": [{"t":0,"t2":1670,"s":0.5,"s2":0.5},{"t":1560,"t2":1560,"s":0.5,"s2":0},{"t":1670,"t2":1670,"s":0.5,"s2":0}]}, "mark": {"type": "rule", "strokeDash": [4, 2.5], "color": "#222", "strokeWidth": 1}, "encoding": {"x2": {"field": "t2"}, "y2": {"field": "s2"}}},
     {"mark": {"type": "line", "interpolate": "step-after", "strokeWidth": 1}, "encoding": {"color": {"field": "g", "type": "nominal", "scale": {"domain": ["H", "L"], "range": ["#E8352B", "#1B837D"]}, "legend": {"title": null, "symbolType": "M-1,0H1M0,-0.6V0.6", "labelExpr": "datum.value === 'H' ? 'Gene=High expression (260)' : 'Gene=Low expression (259)'"}}}},
     {"transform": [{"filter": "datum.c === 1"}], "mark": {"type": "point", "shape": "M-1,0H1M0,-1V1", "filled": false, "size": 14, "strokeWidth": 0.8, "opacity": 1}, "encoding": {"color": {"field": "g", "type": "nominal", "legend": null}}},
     {"data": {"values": [{}]}, "mark": {"type": "text", "align": "left", "fontSize": 7, "color": "#333"}, "encoding": {"x": {"datum": 50}, "y": {"datum": 0.21}, "text": {"value": "p = 0.033"}}},
     {"data": {"values": [{}]}, "mark": {"type": "text", "fontSize": 7, "color": "#333"}, "encoding": {"x": {"datum": 3560}, "y": {"datum": 0.726}, "text": {"value": "HNSC"}}}
    ]},
   {"width": 155, "height": 90, "title": {"text": "(j)", "orient": "bottom", "anchor": "middle", "frame": "group"},
    "data": {"values": [
     {"g":"H","t":0,"s":1},{"g":"H","t":50,"s":0.97},{"g":"H","t":100,"s":0.95},{"g":"H","t":200,"s":0.91},{"g":"H","t":300,"s":0.87},{"g":"H","t":400,"s":0.84},{"g":"H","t":500,"s":0.81},{"g":"H","t":600,"s":0.78},{"g":"H","t":700,"s":0.76},{"g":"H","t":800,"s":0.74},{"g":"H","t":900,"s":0.72},{"g":"H","t":1000,"s":0.7},{"g":"H","t":1100,"s":0.67},{"g":"H","t":1300,"s":0.65},{"g":"H","t":1500,"s":0.63},{"g":"H","t":1700,"s":0.6},{"g":"H","t":1800,"s":0.57},{"g":"H","t":1900,"s":0.54},{"g":"H","t":1990,"s":0.495},{"g":"H","t":2100,"s":0.48},{"g":"H","t":2300,"s":0.48,"c":1},{"g":"H","t":2400,"s":0.46},{"g":"H","t":2600,"s":0.44},{"g":"H","t":2700,"s":0.42},{"g":"H","t":2900,"s":0.42,"c":1},{"g":"H","t":3100,"s":0.42,"c":1},{"g":"H","t":3300,"s":0.42,"c":1},{"g":"H","t":3500,"s":0.42,"c":1},{"g":"H","t":3700,"s":0.42,"c":1},{"g":"H","t":3900,"s":0.42,"c":1},{"g":"H","t":4100,"s":0.42,"c":1},
     {"g":"L","t":0,"s":1},{"g":"L","t":100,"s":0.98},{"g":"L","t":200,"s":0.96},{"g":"L","t":300,"s":0.94},{"g":"L","t":400,"s":0.92},{"g":"L","t":500,"s":0.9},{"g":"L","t":600,"s":0.88},{"g":"L","t":700,"s":0.87},{"g":"L","t":800,"s":0.855},{"g":"L","t":900,"s":0.84},{"g":"L","t":1000,"s":0.83},{"g":"L","t":1200,"s":0.815},{"g":"L","t":1400,"s":0.8},{"g":"L","t":1600,"s":0.79},{"g":"L","t":1800,"s":0.78},{"g":"L","t":2000,"s":0.775},{"g":"L","t":2200,"s":0.76},{"g":"L","t":2300,"s":0.74},{"g":"L","t":2400,"s":0.72},{"g":"L","t":2600,"s":0.7},{"g":"L","t":2700,"s":0.68},{"g":"L","t":2850,"s":0.66},{"g":"L","t":3000,"s":0.64},{"g":"L","t":3150,"s":0.62},{"g":"L","t":3200,"s":0.6},{"g":"L","t":3400,"s":0.6,"c":1},{"g":"L","t":3600,"s":0.6,"c":1},{"g":"L","t":3800,"s":0.3},{"g":"L","t":3850,"s":0.3,"c":1}
    ]},
    "encoding": {
     "x": {"field": "t", "type": "quantitative", "scale": {"domain": [-190, 4190], "nice": false, "zero": false}, "axis": {"title": "Time (days)", "values": [0,500,1000,1500,2000,2500,3000,3500,4000], "format": "d", "labelExpr": "datum.value % 1000 === 0 ? datum.label : ''", "tickOpacity": {"condition": {"test": "datum.value % 1000 !== 0", "value": 0}, "value": 1}}},
     "y": {"field": "s", "type": "quantitative", "scale": {"domain": [-0.05, 1.05], "nice": false, "zero": false}, "axis": {"title": "Survival probability", "values": [0,0.125,0.25,0.375,0.5,0.625,0.75,0.875,1], "labelExpr": "datum.value*4 % 1 === 0 ? format(datum.value, '.2f') : ''", "tickOpacity": {"condition": {"test": "datum.value*4 % 1 !== 0", "value": 0}, "value": 1}}}
    },
    "layer": [
     {"data": {"values": [{"t":0,"t2":3800,"s":0.5,"s2":0.5},{"t":1990,"t2":1990,"s":0.5,"s2":0},{"t":3800,"t2":3800,"s":0.5,"s2":0}]}, "mark": {"type": "rule", "strokeDash": [4, 2.5], "color": "#222", "strokeWidth": 1}, "encoding": {"x2": {"field": "t2"}, "y2": {"field": "s2"}}},
     {"mark": {"type": "line", "interpolate": "step-after", "strokeWidth": 1}, "encoding": {"color": {"field": "g", "type": "nominal", "scale": {"domain": ["H", "L"], "range": ["#E8352B", "#1B837D"]}, "legend": {"title": null, "symbolType": "M-1,0H1M0,-0.6V0.6", "labelExpr": "datum.value === 'H' ? 'Gene=High expression (264)' : 'Gene= Low expression (263)'"}}}},
     {"transform": [{"filter": "datum.c === 1"}], "mark": {"type": "point", "shape": "M-1,0H1M0,-1V1", "filled": false, "size": 14, "strokeWidth": 0.8, "opacity": 1}, "encoding": {"color": {"field": "g", "type": "nominal", "legend": null}}},
     {"data": {"values": [{}]}, "mark": {"type": "text", "align": "left", "fontSize": 7, "color": "#333"}, "encoding": {"x": {"datum": 50}, "y": {"datum": 0.22}, "text": {"value": "p < 0.0001"}}},
     {"data": {"values": [{}]}, "mark": {"type": "text", "fontSize": 7, "color": "#333"}, "encoding": {"x": {"datum": 2824}, "y": {"datum": 0.79}, "text": {"value": "KIRC"}}}
    ]},
   {"width": 160, "height": 90, "title": {"text": "(k)", "orient": "bottom", "anchor": "middle", "frame": "group"},
    "data": {"values": [
     {"g":"H","t":0,"s":1},{"g":"H","t":50,"s":0.97},{"g":"H","t":100,"s":0.95},{"g":"H","t":200,"s":0.91},{"g":"H","t":300,"s":0.87},{"g":"H","t":400,"s":0.84},{"g":"H","t":500,"s":0.82},{"g":"H","t":700,"s":0.79},{"g":"H","t":900,"s":0.76},{"g":"H","t":1100,"s":0.73},{"g":"H","t":1300,"s":0.71},{"g":"H","t":1600,"s":0.68},{"g":"H","t":1800,"s":0.68,"c":1},{"g":"H","t":2000,"s":0.68,"c":1},{"g":"H","t":2150,"s":0.64},{"g":"H","t":2250,"s":0.6},{"g":"H","t":2350,"s":0.56},{"g":"H","t":2470,"s":0.5},{"g":"H","t":2800,"s":0.5,"c":1},{"g":"H","t":3100,"s":0.5,"c":1},{"g":"H","t":3400,"s":0.5,"c":1},{"g":"H","t":3765,"s":0.5,"c":1},
     {"g":"L","t":0,"s":1},{"g":"L","t":100,"s":0.98},{"g":"L","t":200,"s":0.96},{"g":"L","t":300,"s":0.94},{"g":"L","t":400,"s":0.92},{"g":"L","t":500,"s":0.9},{"g":"L","t":700,"s":0.88},{"g":"L","t":900,"s":0.87},{"g":"L","t":1100,"s":0.855},{"g":"L","t":1300,"s":0.84},{"g":"L","t":1500,"s":0.82},{"g":"L","t":1600,"s":0.81},{"g":"L","t":1800,"s":0.81,"c":1},{"g":"L","t":2100,"s":0.81,"c":1},{"g":"L","t":2300,"s":0.81,"c":1},{"g":"L","t":2500,"s":0.81,"c":1},{"g":"L","t":2700,"s":0.81,"c":1},{"g":"L","t":2900,"s":0.81,"c":1},{"g":"L","t":3050,"s":0.81,"c":1},{"g":"L","t":3150,"s":0.75},{"g":"L","t":3200,"s":0.68},{"g":"L","t":3250,"s":0.6},{"g":"L","t":3300,"s":0.54},{"g":"L","t":3600,"s":0.54,"c":1},{"g":"L","t":3900,"s":0.54,"c":1},{"g":"L","t":5975,"s":0.54,"c":1}
    ]},
    "encoding": {
     "x": {"field": "t", "type": "quantitative", "scale": {"domain": [-300, 6300], "nice": false, "zero": false}, "axis": {"title": "Time (days)", "values": [0,500,1000,1500,2000,2500,3000,3500,4000,4500,5000,5500,6000], "format": "d", "labelExpr": "datum.value % 1000 === 0 ? datum.label : ''", "tickOpacity": {"condition": {"test": "datum.value % 1000 !== 0", "value": 0}, "value": 1}}},
     "y": {"field": "s", "type": "quantitative", "scale": {"domain": [-0.05, 1.05], "nice": false, "zero": false}, "axis": {"title": "Survival probability", "values": [0,0.125,0.25,0.375,0.5,0.625,0.75,0.875,1], "labelExpr": "datum.value*4 % 1 === 0 ? format(datum.value, '.2f') : ''", "tickOpacity": {"condition": {"test": "datum.value*4 % 1 !== 0", "value": 0}, "value": 1}}}
    },
    "layer": [
     {"data": {"values": [{"t":0,"t2":2470,"s":0.5,"s2":0.5},{"t":2470,"t2":2470,"s":0.5,"s2":0}]}, "mark": {"type": "rule", "strokeDash": [4, 2.5], "color": "#222", "strokeWidth": 1}, "encoding": {"x2": {"field": "t2"}, "y2": {"field": "s2"}}},
     {"mark": {"type": "line", "interpolate": "step-after", "strokeWidth": 1}, "encoding": {"color": {"field": "g", "type": "nominal", "scale": {"domain": ["H", "L"], "range": ["#E8352B", "#1B837D"]}, "legend": {"title": null, "symbolType": "M-1,0H1M0,-0.6V0.6", "labelExpr": "datum.value === 'H' ? 'Gene=High expression (142)' : 'Gene=Low expression (142)'"}}}},
     {"transform": [{"filter": "datum.c === 1"}], "mark": {"type": "point", "shape": "M-1,0H1M0,-1V1", "filled": false, "size": 14, "strokeWidth": 0.8, "opacity": 1}, "encoding": {"color": {"field": "g", "type": "nominal", "legend": null}}},
     {"data": {"values": [{}]}, "mark": {"type": "text", "align": "left", "fontSize": 7, "color": "#333"}, "encoding": {"x": {"datum": 50}, "y": {"datum": 0.2}, "text": {"value": "p = 0.0024"}}},
     {"data": {"values": [{}]}, "mark": {"type": "text", "fontSize": 7, "color": "#333"}, "encoding": {"x": {"datum": 4230}, "y": {"datum": 0.75}, "text": {"value": "KIRP"}}}
    ]},
   {"width": 155, "height": 90, "title": {"text": "(l)", "orient": "bottom", "anchor": "middle", "frame": "group"},
    "data": {"values": [
     {"g":"H","t":0,"s":1},{"g":"H","t":30,"s":0.978},{"g":"H","t":60,"s":0.955},{"g":"H","t":90,"s":0.92},{"g":"H","t":120,"s":0.88},{"g":"H","t":150,"s":0.84},{"g":"H","t":180,"s":0.8},{"g":"H","t":210,"s":0.76},{"g":"H","t":240,"s":0.72},{"g":"H","t":270,"s":0.68},{"g":"H","t":300,"s":0.64},{"g":"H","t":330,"s":0.6},{"g":"H","t":360,"s":0.55},{"g":"H","t":380,"s":0.5},{"g":"H","t":420,"s":0.46},{"g":"H","t":460,"s":0.42},{"g":"H","t":520,"s":0.38},{"g":"H","t":600,"s":0.34},{"g":"H","t":680,"s":0.3},{"g":"H","t":760,"s":0.26},{"g":"H","t":800,"s":0.235},{"g":"H","t":1000,"s":0.235,"c":1},{"g":"H","t":1150,"s":0.235,"c":1},{"g":"H","t":1270,"s":0.2},{"g":"H","t":1350,"s":0.2,"c":1},{"g":"H","t":1400,"s":0.16},{"g":"H","t":1500,"s":0.12},{"g":"H","t":1600,"s":0.086},{"g":"H","t":1800,"s":0.086,"c":1},{"g":"H","t":2000,"s":0.086,"c":1},
     {"g":"L","t":0,"s":1},{"g":"L","t":40,"s":0.989},{"g":"L","t":80,"s":0.978},{"g":"L","t":120,"s":0.96},{"g":"L","t":160,"s":0.94},{"g":"L","t":200,"s":0.91},{"g":"L","t":240,"s":0.87},{"g":"L","t":280,"s":0.82},{"g":"L","t":320,"s":0.77},{"g":"L","t":360,"s":0.72},{"g":"L","t":400,"s":0.67},{"g":"L","t":440,"s":0.62},{"g":"L","t":480,"s":0.57},{"g":"L","t":517,"s":0.5},{"g":"L","t":550,"s":0.45},{"g":"L","t":600,"s":0.41},{"g":"L","t":650,"s":0.38},{"g":"L","t":750,"s":0.36},{"g":"L","t":850,"s":0.34},{"g":"L","t":950,"s":0.31},{"g":"L","t":1050,"s":0.29},{"g":"L","t":1250,"s":0.29,"c":1},{"g":"L","t":1400,"s":0.29,"c":1},{"g":"L","t":1700,"s":0.29,"c":1},{"g":"L","t":1900,"s":0.29,"c":1},{"g":"L","t":2000,"s":0.29,"c":1},{"g":"L","t":2760,"s":0.29,"c":1}
    ]},
    "encoding": {
     "x": {"field": "t", "type": "quantitative", "scale": {"domain": [-90, 3130], "nice": false, "zero": false}, "axis": {"title": "Time (days)", "values": [0,500,1000,1500,2000,2500,3000], "format": "d", "labelExpr": "datum.value % 1000 === 0 ? datum.label : ''", "tickOpacity": {"condition": {"test": "datum.value % 1000 !== 0", "value": 0}, "value": 1}}},
     "y": {"field": "s", "type": "quantitative", "scale": {"domain": [-0.05, 1.05], "nice": false, "zero": false}, "axis": {"title": "Survival probability", "values": [0,0.125,0.25,0.375,0.5,0.625,0.75,0.875,1], "labelExpr": "datum.value*4 % 1 === 0 ? format(datum.value, '.2f') : ''", "tickOpacity": {"condition": {"test": "datum.value*4 % 1 !== 0", "value": 0}, "value": 1}}}
    },
    "layer": [
     {"data": {"values": [{"t":0,"t2":517,"s":0.5,"s2":0.5},{"t":380,"t2":380,"s":0.5,"s2":0},{"t":517,"t2":517,"s":0.5,"s2":0}]}, "mark": {"type": "rule", "strokeDash": [4, 2.5], "color": "#222", "strokeWidth": 1}, "encoding": {"x2": {"field": "t2"}, "y2": {"field": "s2"}}},
     {"mark": {"type": "line", "interpolate": "step-after", "strokeWidth": 1}, "encoding": {"color": {"field": "g", "type": "nominal", "scale": {"domain": ["H", "L"], "range": ["#E8352B", "#1B837D"]}, "legend": {"title": null, "symbolType": "M-1,0H1M0,-0.6V0.6", "labelExpr": "datum.value === 'H' ? 'Gene=High expression (89)' : 'Gene=Low expression (89)'"}}}},
     {"transform": [{"filter": "datum.c === 1"}], "mark": {"type": "point", "shape": "M-1,0H1M0,-1V1", "filled": false, "size": 14, "strokeWidth": 0.8, "opacity": 1}, "encoding": {"color": {"field": "g", "type": "nominal", "legend": null}}},
     {"data": {"values": [{}]}, "mark": {"type": "text", "align": "left", "fontSize": 7, "color": "#333"}, "encoding": {"x": {"datum": 20}, "y": {"datum": 0.2}, "text": {"value": "p = 0.029"}}},
     {"data": {"values": [{}]}, "mark": {"type": "text", "fontSize": 7, "color": "#333"}, "encoding": {"x": {"datum": 1600}, "y": {"datum": 0.71}, "text": {"value": "PAAD"}}}
    ]}
  ]}
 ]},
 {"spacing": 29, "resolve": {"scale": {"color": "independent"}, "legend": {"color": "independent"}}, "hconcat": [
  {"width": 61, "height": 10, "view": {"stroke": null}, "data": {"values": []}, "mark": "point"},
  {"width": 174, "height": 99, "title": {"text": "(m)", "orient": "bottom", "anchor": "middle", "frame": "group"},
   "data": {"values": [
    {"g":"H","t":0,"s":1},{"g":"H","t":60,"s":1,"c":1},{"g":"H","t":90,"s":0.974},{"g":"H","t":140,"s":0.948},{"g":"H","t":170,"s":0.922},{"g":"H","t":235,"s":0.85},{"g":"H","t":270,"s":0.78},{"g":"H","t":326,"s":0.74},{"g":"H","t":400,"s":0.7},{"g":"H","t":460,"s":0.67},{"g":"H","t":560,"s":0.645},{"g":"H","t":650,"s":0.645,"c":1},{"g":"H","t":750,"s":0.645,"c":1},{"g":"H","t":850,"s":0.645,"c":1},{"g":"H","t":950,"s":0.645,"c":1},{"g":"H","t":1000,"s":0.57},{"g":"H","t":1060,"s":0.535},{"g":"H","t":1115,"s":0.47},{"g":"H","t":1200,"s":0.47,"c":1},{"g":"H","t":1263,"s":0.38},{"g":"H","t":1350,"s":0.38,"c":1},{"g":"H","t":1390,"s":0.19},{"g":"H","t":1432,"s":0.19,"c":1},
    {"g":"L","t":0,"s":1},{"g":"L","t":40,"s":0.974},{"g":"L","t":100,"s":0.947},{"g":"L","t":250,"s":0.92},{"g":"L","t":450,"s":0.89},{"g":"L","t":550,"s":0.86},{"g":"L","t":620,"s":0.8},{"g":"L","t":700,"s":0.8,"c":1},{"g":"L","t":750,"s":0.8,"c":1},{"g":"L","t":800,"s":0.8,"c":1},{"g":"L","t":850,"s":0.8,"c":1},{"g":"L","t":900,"s":0.8,"c":1},{"g":"L","t":1000,"s":0.8,"c":1},{"g":"L","t":1100,"s":0.8,"c":1},{"g":"L","t":1200,"s":0.8,"c":1},{"g":"L","t":1290,"s":0.67},{"g":"L","t":1570,"s":0.335},{"g":"L","t":2026,"s":0.17},{"g":"L","t":2500,"s":0.17,"c":1}
   ]},
   "encoding": {
    "x": {"field": "t", "type": "quantitative", "scale": {"domain": [-125, 2625], "nice": false, "zero": false}, "axis": {"title": "Time (days)", "values": [0,250,500,750,1000,1250,1500,1750,2000,2250,2500], "format": "d", "labelExpr": "datum.value % 500 === 0 ? datum.label : ''", "tickOpacity": {"condition": {"test": "datum.value % 500 !== 0", "value": 0}, "value": 1}}},
    "y": {"field": "s", "type": "quantitative", "scale": {"domain": [-0.05, 1.05], "nice": false, "zero": false}, "axis": {"title": "Survival probability", "values": [0,0.125,0.25,0.375,0.5,0.625,0.75,0.875,1], "labelExpr": "datum.value*4 % 1 === 0 ? format(datum.value, '.2f') : ''", "tickOpacity": {"condition": {"test": "datum.value*4 % 1 !== 0", "value": 0}, "value": 1}}}
   },
   "layer": [
    {"data": {"values": [{"t":0,"t2":1570,"s":0.5,"s2":0.5},{"t":1115,"t2":1115,"s":0.5,"s2":0},{"t":1570,"t2":1570,"s":0.5,"s2":0}]}, "mark": {"type": "rule", "strokeDash": [4, 2.5], "color": "#222", "strokeWidth": 1}, "encoding": {"x2": {"field": "t2"}, "y2": {"field": "s2"}}},
    {"mark": {"type": "line", "interpolate": "step-after", "strokeWidth": 1}, "encoding": {"color": {"field": "g", "type": "nominal", "scale": {"domain": ["H", "L"], "range": ["#E8352B", "#1B837D"]}, "legend": {"title": null, "symbolType": "M-1,0H1M0,-0.6V0.6", "labelExpr": "datum.value === 'H' ? 'Gene=High expression (39)' : 'Gene=Low expression (39)'"}}}},
    {"transform": [{"filter": "datum.c === 1"}], "mark": {"type": "point", "shape": "M-1,0H1M0,-1V1", "filled": false, "size": 14, "strokeWidth": 0.8, "opacity": 1}, "encoding": {"color": {"field": "g", "type": "nominal", "legend": null}}},
    {"data": {"values": [{}]}, "mark": {"type": "text", "align": "left", "fontSize": 7, "color": "#333"}, "encoding": {"x": {"datum": 50}, "y": {"datum": 0.19}, "text": {"value": "p = 0.019"}}},
    {"data": {"values": [{}]}, "mark": {"type": "text", "fontSize": 7, "color": "#333"}, "encoding": {"x": {"datum": 1825}, "y": {"datum": 0.75}, "text": {"value": "UVM"}}}
   ]},
  {"width": 155, "height": 99, "title": {"text": "(n)", "orient": "bottom", "anchor": "middle", "frame": "group"},
   "data": {"values": [
    {"g":"H","t":0,"s":1},{"g":"H","t":100,"s":0.98},{"g":"H","t":200,"s":0.96},{"g":"H","t":300,"s":0.94},{"g":"H","t":400,"s":0.92},{"g":"H","t":500,"s":0.9},{"g":"H","t":600,"s":0.88},{"g":"H","t":700,"s":0.86},{"g":"H","t":800,"s":0.84},{"g":"H","t":900,"s":0.82},{"g":"H","t":1000,"s":0.8},{"g":"H","t":1100,"s":0.78},{"g":"H","t":1200,"s":0.76},{"g":"H","t":1300,"s":0.73},{"g":"H","t":1400,"s":0.7},{"g":"H","t":1500,"s":0.67},{"g":"H","t":1600,"s":0.65},{"g":"H","t":1800,"s":0.65,"c":1},{"g":"H","t":2000,"s":0.63},{"g":"H","t":2200,"s":0.63,"c":1},{"g":"H","t":2300,"s":0.62},{"g":"H","t":2400,"s":0.6},{"g":"H","t":2500,"s":0.56},{"g":"H","t":2550,"s":0.537},{"g":"H","t":2800,"s":0.537,"c":1},{"g":"H","t":3200,"s":0.537,"c":1},{"g":"H","t":3500,"s":0.537,"c":1},{"g":"H","t":3800,"s":0.537,"c":1},{"g":"H","t":4300,"s":0.537,"c":1},{"g":"H","t":5000,"s":0.537,"c":1},
    {"g":"L","t":0,"s":1},{"g":"L","t":100,"s":0.99},{"g":"L","t":200,"s":0.98},{"g":"L","t":400,"s":0.96},{"g":"L","t":600,"s":0.94},{"g":"L","t":800,"s":0.92},{"g":"L","t":1000,"s":0.9},{"g":"L","t":1100,"s":0.88},{"g":"L","t":1200,"s":0.86},{"g":"L","t":1300,"s":0.84},{"g":"L","t":1400,"s":0.82},{"g":"L","t":1500,"s":0.8},{"g":"L","t":1550,"s":0.778},{"g":"L","t":1700,"s":0.778,"c":1},{"g":"L","t":1900,"s":0.778,"c":1},{"g":"L","t":2050,"s":0.778,"c":1},{"g":"L","t":2150,"s":0.72},{"g":"L","t":2250,"s":0.67},{"g":"L","t":2320,"s":0.652},{"g":"L","t":2600,"s":0.652,"c":1},{"g":"L","t":2900,"s":0.652,"c":1},{"g":"L","t":3200,"s":0.652,"c":1},{"g":"L","t":3500,"s":0.652,"c":1}
   ]},
   "encoding": {
    "x": {"field": "t", "type": "quantitative", "scale": {"domain": [-250, 5250], "nice": false, "zero": false}, "axis": {"title": "Time (days)", "values": [0,500,1000,1500,2000,2500,3000,3500,4000,4500,5000], "format": "d", "labelExpr": "datum.value % 1000 === 0 ? datum.label : ''", "tickOpacity": {"condition": {"test": "datum.value % 1000 !== 0", "value": 0}, "value": 1}}},
    "y": {"field": "s", "type": "quantitative", "scale": {"domain": [-0.05, 1.05], "nice": false, "zero": false}, "axis": {"title": "Survival probability", "values": [0,0.125,0.25,0.375,0.5,0.625,0.75,0.875,1], "labelExpr": "datum.value*4 % 1 === 0 ? format(datum.value, '.2f') : ''", "tickOpacity": {"condition": {"test": "datum.value*4 % 1 !== 0", "value": 0}, "value": 1}}}
   },
   "layer": [
    {"mark": {"type": "line", "interpolate": "step-after", "strokeWidth": 1}, "encoding": {"color": {"field": "g", "type": "nominal", "scale": {"domain": ["H", "L"], "range": ["#E8352B", "#1B837D"]}, "legend": {"title": null, "symbolType": "M-1,0H1M0,-0.6V0.6", "labelExpr": "datum.value === 'H' ? 'Gene=High expression (248)' : 'Gene=Low expression (248)'"}}}},
    {"transform": [{"filter": "datum.c === 1"}], "mark": {"type": "point", "shape": "M-1,0H1M0,-1V1", "filled": false, "size": 14, "strokeWidth": 0.8, "opacity": 1}, "encoding": {"color": {"field": "g", "type": "nominal", "legend": null}}},
    {"data": {"values": [{}]}, "mark": {"type": "text", "align": "left", "fontSize": 7, "color": "#333"}, "encoding": {"x": {"datum": 30}, "y": {"datum": 0.2}, "text": {"value": "p = 0.0075"}}},
    {"data": {"values": [{}]}, "mark": {"type": "text", "fontSize": 7, "color": "#333"}, "encoding": {"x": {"datum": 3500}, "y": {"datum": 0.75}, "text": {"value": "PRAD"}}}
   ]}
 ]}
]
}
